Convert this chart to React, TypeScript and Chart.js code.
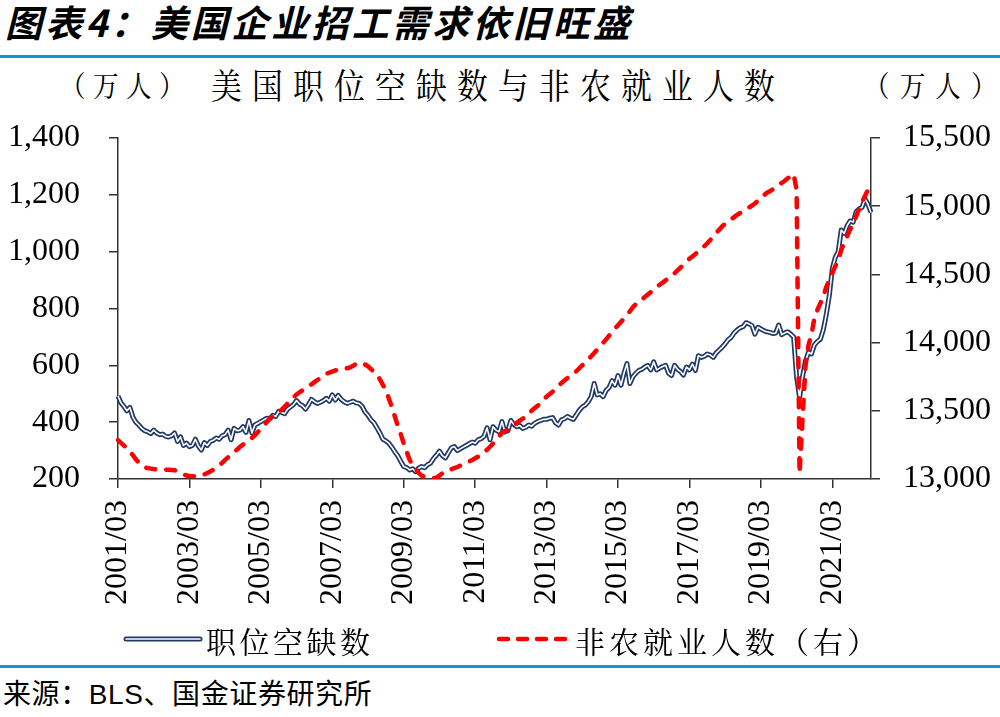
import React, { useEffect, useRef } from 'react';
import Chart from 'chart.js/auto';

// 月度数据，起点 2001/03
const START_YEAR = 2001;
const START_MONTH = 3;
const TICK_EVERY = 24;

// 职位空缺数（万人）
const jobOpenings = [
  492, 468, 455, 440, 452, 418, 400, 390, 378, 370, // 2001 (3-12)
  366, 360, 372, 362, 356, 358, 350, 348, 352, 362, 332, 348, // 2002
  318, 326, 314, 318, 340, 316, 302, 328, 318, 332, 336, 344, // 2003
  340, 352, 356, 372, 338, 378, 370, 372, 384, 364, 406, 362, // 2004
  390, 396, 402, 408, 414, 412, 424, 420, 438, 434, 430, 446, // 2005
  454, 462, 476, 464, 458, 446, 462, 480, 472, 466, 470, 476, // 2006
  484, 474, 496, 478, 494, 480, 472, 466, 470, 474, 468, 466, // 2007
  456, 436, 424, 408, 398, 380, 362, 340, 334, 326, 312, 296, // 2008
  282, 262, 244, 240, 232, 236, 226, 238, 244, 240, 250, 256, // 2009
  272, 284, 298, 282, 274, 292, 310, 314, 300, 306, 312, 318, // 2010
  324, 330, 326, 338, 342, 350, 380, 338, 384, 372, 366, 402, // 2011
  366, 370, 406, 392, 384, 388, 378, 382, 390, 386, 396, 402, // 2012
  406, 410, 410, 414, 416, 398, 390, 408, 412, 420, 414, 410, // 2013
  426, 442, 454, 460, 472, 490, 536, 496, 500, 490, 512, 522, // 2014
  546, 530, 564, 530, 572, 606, 536, 560, 572, 582, 586, 594, // 2015
  600, 584, 612, 584, 590, 596, 600, 572, 564, 600, 586, 578, // 2016
  566, 594, 584, 604, 582, 634, 628, 632, 640, 636, 628, 644, // 2017
  654, 664, 676, 690, 698, 714, 724, 732, 736, 750, 746, 740, // 2018
  710, 734, 728, 722, 718, 716, 712, 714, 742, 708, 714, 718, // 2019
  710, 700, 560, 486, 560, 616, 646, 640, 672, 684, 692, 726, // 2020
  780, 846, 940, 980, 1000, 1076, 1064, 1092, 1108, 1104, 1140, 1150, // 2021
  1156, 1186, 1166, 1138, // 2022 (1-4)
];

// 非农就业人数（万人，右轴）
const payrolls = [
  13285, 13265, 13245, 13228, 13200, 13175, 13145, 13120, 13100, 13085, // 2001 (3-12)
  13080, 13076, 13073, 13071, 13070, 13070, 13068, 13067, 13066, 13064, 13058, 13045, // 2002
  13034, 13026, 13022, 13020, 13020, 13022, 13026, 13034, 13044, 13054, 13068, 13085, // 2003
  13100, 13118, 13140, 13160, 13178, 13196, 13216, 13236, 13252, 13268, 13285, 13300, // 2004
  13322, 13345, 13368, 13392, 13418, 13444, 13460, 13476, 13492, 13508, 13530, 13554, // 2005
  13580, 13600, 13620, 13636, 13650, 13664, 13680, 13694, 13710, 13726, 13742, 13758, // 2006
  13772, 13780, 13788, 13796, 13802, 13806, 13810, 13812, 13818, 13830, 13844, 13852, // 2007
  13850, 13840, 13826, 13806, 13786, 13766, 13730, 13690, 13650, 13590, 13530, 13460, // 2008
  13390, 13330, 13260, 13200, 13140, 13100, 13075, 13045, 13025, 13015, 13010, 13008, // 2009
  13006, 13010, 13025, 13042, 13058, 13066, 13072, 13080, 13088, 13098, 13108, 13118, // 2010
  13128, 13140, 13152, 13164, 13180, 13198, 13214, 13236, 13260, 13286, 13312, 13338, // 2011
  13350, 13360, 13375, 13392, 13412, 13428, 13442, 13456, 13478, 13502, 13520, 13536, // 2012
  13560, 13582, 13604, 13622, 13640, 13660, 13684, 13704, 13722, 13740, 13756, 13770, // 2013
  13790, 13812, 13834, 13851, 13876, 13900, 13924, 13948, 13972, 13998, 14024, 14050, // 2014
  14078, 14104, 14128, 14152, 14176, 14200, 14230, 14260, 14282, 14300, 14316, 14334, // 2015
  14352, 14370, 14390, 14408, 14424, 14440, 14456, 14474, 14490, 14508, 14530, 14550, // 2016
  14572, 14596, 14614, 14632, 14650, 14666, 14686, 14706, 14728, 14752, 14778, 14804, // 2017
  14828, 14852, 14872, 14888, 14904, 14920, 14936, 14950, 14962, 14976, 14990, 15004, // 2018
  15020, 15040, 15060, 15080, 15098, 15110, 15124, 15140, 15156, 15170, 15186, 15204, // 2019
  15220, 15236, 15120, 13040, 13440, 13830, 13980, 14060, 14180, 14240, 14290, 14340, // 2020
  14410, 14460, 14510, 14560, 14605, 14680, 14730, 14780, 14830, 14870, 14925, 14978, // 2021
  15030, 15076, 15120, 15162, // 2022 (1-4)
];

const leftAxis = { min: 200, max: 1400, step: 200 };
const rightAxis = { min: 13000, max: 15500, step: 500 };

const months = jobOpenings.map((_, i) => {
  const t = START_MONTH - 1 + i;
  const y = START_YEAR + Math.floor(t / 12);
  const m = (t % 12) + 1;
  return `${y}/${String(m).padStart(2, '0')}`;
});

const BLUE = '#0a9ad8';
const NAVY = '#1f3864';
const AXIS = '#333333';
const CJK = '"Noto Serif CJK SC", "Noto Sans CJK SC", sans-serif';
const tickFont = { family: '"Liberation Serif", "Times New Roman", serif', size: 32 };

const fmt = (v: number) => Number(v).toLocaleString('en-US');

// 固定坐标轴尺寸，去掉刻度文字带来的额外上下留白
const fixY = (width: number) => (s: any) => {
  s.width = width;
  s.paddingTop = 0;
  s.paddingBottom = 0;
};

const OpeningsChart = () => {
  const canvasRef = useRef<HTMLCanvasElement>(null);
  const chartRef = useRef<Chart | null>(null);

  useEffect(() => {
    if (chartRef.current) {
      chartRef.current.destroy();
    }
    const ctx = canvasRef.current!.getContext('2d')!;

    const axisGrid = {
      display: true,
      drawOnChartArea: false,
      drawTicks: true,
      tickLength: 9,
      color: AXIS,
      tickColor: AXIS,
      lineWidth: 1.5,
    };
    const axisBorder = { display: true, color: AXIS, width: 1.5 };

    chartRef.current = new Chart(ctx, {
      type: 'line',
      data: {
        labels: months,
        datasets: [
          {
            label: '非农就业人数（右）',
            data: payrolls,
            yAxisID: 'yRight',
            borderColor: '#ff0000',
            borderWidth: 4.5,
            borderDash: [9, 11],
            borderCapStyle: 'round',
            pointRadius: 0,
            tension: 0,
            order: 0,
          },
          {
            label: '职位空缺数 inner',
            data: jobOpenings,
            yAxisID: 'yLeft',
            borderColor: '#ffffff',
            borderWidth: 1.6,
            borderJoinStyle: 'round',
            pointRadius: 0,
            tension: 0,
            order: 1,
          },
          {
            label: '职位空缺数',
            data: jobOpenings,
            yAxisID: 'yLeft',
            borderColor: NAVY,
            borderWidth: 5,
            borderJoinStyle: 'round',
            pointRadius: 0,
            tension: 0,
            order: 2,
          },
        ],
      },
      options: {
        animation: false,
        responsive: true,
        maintainAspectRatio: false,
        layout: { padding: { top: 28, left: 0, right: 0, bottom: 0 } },
        plugins: {
          legend: { display: false },
          tooltip: { enabled: false },
        },
        scales: {
          x: {
            type: 'category',
            offset: false,
            grid: axisGrid,
            border: axisBorder,
            ticks: {
              autoSkip: false,
              minRotation: 90,
              maxRotation: 90,
              padding: 12,
              color: '#000',
              font: tickFont,
              callback: (_v: any, i: number) => (i % TICK_EVERY === 0 ? months[i] : null),
            },
            afterFit: (s: any) => {
              s.height = 141;
            },
          },
          yLeft: {
            position: 'left',
            min: leftAxis.min,
            max: leftAxis.max,
            grid: axisGrid,
            border: axisBorder,
            ticks: {
              stepSize: leftAxis.step,
              padding: 29,
              color: '#000',
              font: tickFont,
              callback: (v: any) => fmt(v),
            },
            afterFit: fixY(118),
          },
          yRight: {
            position: 'right',
            min: rightAxis.min,
            max: rightAxis.max,
            grid: axisGrid,
            border: axisBorder,
            ticks: {
              stepSize: rightAxis.step,
              padding: 23,
              color: '#000',
              font: tickFont,
              callback: (v: any) => fmt(v),
            },
            afterFit: fixY(129),
          },
        },
      },
    });

    return () => {
      if (chartRef.current) {
        chartRef.current.destroy();
        chartRef.current = null;
      }
    };
  }, []);

  return <canvas ref={canvasRef}></canvas>;
};

const App = () => {
  const abs = (style: React.CSSProperties): React.CSSProperties => ({
    position: 'absolute',
    whiteSpace: 'nowrap',
    margin: 0,
    ...style,
  });

  return (
    <div style={{ position: 'absolute', left: 0, top: 0, width: 1000, height: 717, background: '#fff', overflow: 'hidden' }}>
      <div
        style={abs({
          left: 5,
          top: 3,
          fontFamily: '"Noto Sans CJK SC", sans-serif',
          fontWeight: 700,
          fontStyle: 'italic',
          fontSize: 37,
          lineHeight: '37px',
          letterSpacing: 3.2,
          color: '#000',
        })}
      >
        图表4：美国企业招工需求依旧旺盛
      </div>
      <div style={abs({ left: 0, top: 55, width: 1000, height: 3, background: BLUE })} />

      <div
        style={abs({
          left: 60,
          top: 70,
          fontFamily: CJK,
          fontSize: 29,
          lineHeight: '29px',
          letterSpacing: 8.5,
          transform: 'scaleX(0.88)',
          transformOrigin: 'left top',
        })}
      >
        （万人）
      </div>
      <div
        style={abs({
          left: 211,
          top: 67,
          fontFamily: CJK,
          fontSize: 35,
          lineHeight: '35px',
          letterSpacing: 11.6,
          transform: 'scaleX(0.88)',
          transformOrigin: 'left top',
        })}
      >
        美国职位空缺数与非农就业人数
      </div>
      <div
        style={abs({
          left: 864,
          top: 70,
          fontFamily: CJK,
          fontSize: 29,
          lineHeight: '29px',
          letterSpacing: 11.5,
          transform: 'scaleX(0.88)',
          transformOrigin: 'left top',
        })}
      >
        （万人）
      </div>

      <div style={abs({ left: 0, top: 110, width: 1000, height: 510 })}>
        <OpeningsChart />
      </div>

      <svg style={abs({ left: 120, top: 630, overflow: 'visible' })} width={86} height={18}>
        <line x1={6} y1={9} x2={80} y2={9} stroke={NAVY} strokeWidth={5} strokeLinecap="round" />
        <line x1={6} y1={9} x2={80} y2={9} stroke="#ffffff" strokeWidth={1.6} strokeLinecap="round" />
      </svg>
      <div style={abs({ left: 206, top: 625, fontFamily: CJK, fontSize: 30, lineHeight: '30px', letterSpacing: 3.5 })}>
        职位空缺数
      </div>
      <svg style={abs({ left: 494, top: 630, overflow: 'visible' })} width={80} height={18}>
        <line x1={5} y1={9} x2={72} y2={9} stroke="#ff0000" strokeWidth={4.5} strokeDasharray="9 10" strokeLinecap="round" />
      </svg>
      <div style={abs({ left: 575, top: 625, fontFamily: CJK, fontSize: 30, lineHeight: '30px', letterSpacing: 4 })}>
        非农就业人数（右）
      </div>

      <div style={abs({ left: 0, top: 665, width: 1000, height: 3, background: BLUE })} />
      <div
        style={abs({
          left: 3,
          top: 681,
          fontFamily: '"Liberation Sans", Arial, "Noto Sans CJK SC", sans-serif',
          fontSize: 28,
          lineHeight: '28px',
          letterSpacing: 0.6,
        })}
      >
        来源：BLS、国金证券研究所
      </div>
    </div>
  );
};

export default App;
